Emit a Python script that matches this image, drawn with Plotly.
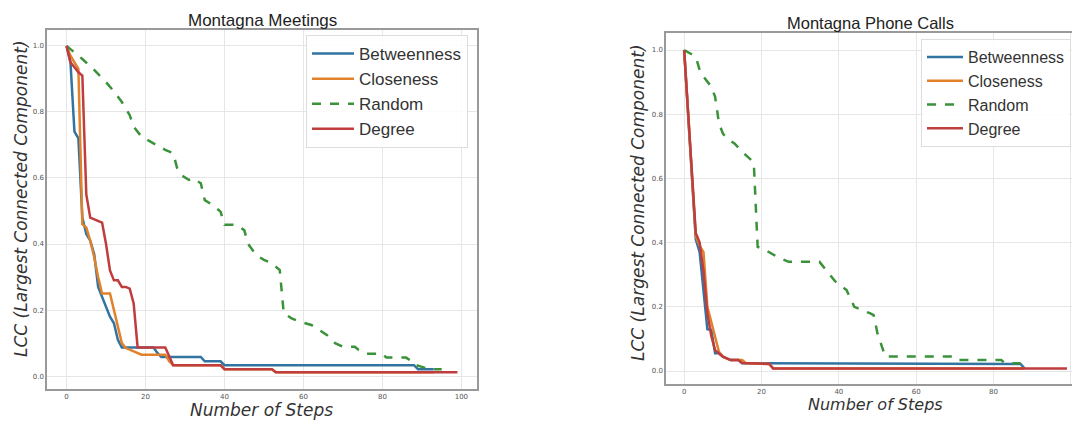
import plotly.graph_objects as go

# ---------------- Data: Montagna Meetings ----------------
bet_m_x = [0, 1, 2, 3, 4, 5, 6, 7, 8, 9, 10, 11, 12, 13, 14, 22, 23, 24, 34, 35, 39, 40, 88, 89, 93]
bet_m_y = [1.0, 0.95, 0.74, 0.72, 0.48, 0.43, 0.41, 0.37, 0.27, 0.24, 0.21, 0.18, 0.16, 0.11, 0.087,
           0.087, 0.07, 0.058, 0.058, 0.045, 0.045, 0.033, 0.033, 0.021, 0.021]

clo_m_x = [0, 1, 2, 3, 4, 5, 6, 7, 8, 9, 11, 12, 13, 14, 15, 16, 17, 18, 19, 25, 26, 27, 39, 40, 52, 53, 93]
clo_m_y = [1.0, 0.97, 0.95, 0.93, 0.46, 0.45, 0.41, 0.36, 0.30, 0.25, 0.25, 0.20, 0.15, 0.10, 0.085,
           0.08, 0.075, 0.07, 0.065, 0.065, 0.045, 0.033, 0.033, 0.021, 0.021, 0.012, 0.012]

rnd_m_x = [0, 4, 7, 10, 12, 14, 16, 17, 19, 22, 25, 27, 28, 29, 31, 32, 34, 35, 37, 39, 40, 43, 45,
           46, 48, 50, 52, 54, 55, 57, 59, 62, 64, 66, 68, 70, 73, 74, 76, 80, 81, 86, 87, 88, 90, 92, 95]
rnd_m_y = [1.0, 0.96, 0.927, 0.89, 0.862, 0.83, 0.79, 0.755, 0.725, 0.705, 0.685, 0.675, 0.63, 0.609,
           0.594, 0.599, 0.584, 0.533, 0.518, 0.498, 0.458, 0.458, 0.442, 0.40, 0.367, 0.352, 0.341,
           0.321, 0.19, 0.175, 0.165, 0.155, 0.139, 0.124, 0.10, 0.089, 0.089, 0.079, 0.068, 0.068,
           0.056, 0.056, 0.048, 0.035, 0.028, 0.021, 0.021]

deg_m_x = [0, 1, 2, 3, 4, 5, 6, 7, 8, 9, 10, 11, 12, 13, 14, 15, 16, 17, 18, 25, 26, 27, 39, 40, 52, 53, 99]
deg_m_y = [1.0, 0.95, 0.935, 0.92, 0.91, 0.55, 0.48, 0.475, 0.47, 0.465, 0.40, 0.32, 0.29, 0.29, 0.27,
           0.27, 0.265, 0.22, 0.087, 0.087, 0.06, 0.033, 0.033, 0.021, 0.021, 0.012, 0.012]

# ---------------- Data: Montagna Phone Calls ----------------
bet_p_x = [0, 3, 4, 5, 6, 7, 8, 9, 10, 12, 14, 15, 87, 88]
bet_p_y = [1.0, 0.41, 0.37, 0.26, 0.13, 0.128, 0.055, 0.055, 0.045, 0.034, 0.034, 0.024, 0.022, 0.008]

clo_p_x = [0, 3, 4, 5, 6, 7, 8, 9, 10, 12, 15, 16, 22, 23, 88]
clo_p_y = [1.0, 0.42, 0.39, 0.37, 0.20, 0.15, 0.10, 0.06, 0.045, 0.034, 0.034, 0.024, 0.022, 0.008, 0.008]

rnd_p_x = [0, 3, 4, 5, 7, 8, 9, 10, 11, 13, 15, 18, 19, 21, 24, 27, 35, 36, 37, 39, 42, 44, 48, 49,
           50, 52, 70, 71, 82, 83, 87]
rnd_p_y = [1.0, 0.979, 0.938, 0.917, 0.886, 0.854, 0.772, 0.74, 0.725, 0.709, 0.683, 0.65, 0.387,
           0.377, 0.356, 0.34, 0.34, 0.325, 0.31, 0.28, 0.252, 0.20, 0.18, 0.174, 0.117, 0.045,
           0.045, 0.034, 0.034, 0.024, 0.024]

deg_p_x = [0, 3, 4, 5, 6, 7, 8, 9, 10, 12, 14, 15, 22, 23, 99]
deg_p_y = [1.0, 0.43, 0.40, 0.31, 0.18, 0.11, 0.065, 0.055, 0.045, 0.034, 0.034, 0.025, 0.022, 0.008, 0.008]

names = ["Betweenness", "Closeness", "Random", "Degree"]
colors = ["#3274a1", "#e1812c", "#3a923a", "#c03d3e"]
dashes = ["solid", "solid", "dash", "solid"]

x_ticks = [0, 20, 40, 60, 80, 100]
y_ticks = [0.0, 0.2, 0.4, 0.6, 0.8, 1.0]

W, H = 1072, 421

fig = go.Figure()

meet = [(bet_m_x, bet_m_y), (clo_m_x, clo_m_y), (rnd_m_x, rnd_m_y), (deg_m_x, deg_m_y)]
phone = [(bet_p_x, bet_p_y), (clo_p_x, clo_p_y), (rnd_p_x, rnd_p_y), (deg_p_x, deg_p_y)]

for i, (xs, ys) in enumerate(meet):
    fig.add_trace(go.Scatter(x=xs, y=ys, mode="lines", name=names[i],
                             line=dict(color=colors[i], width=2.5, dash=dashes[i]),
                             xaxis="x", yaxis="y", legend="legend"))
for i, (xs, ys) in enumerate(phone):
    fig.add_trace(go.Scatter(x=xs, y=ys, mode="lines", name=names[i],
                             line=dict(color=colors[i], width=2.5, dash=dashes[i]),
                             xaxis="x2", yaxis="y2", legend="legend2"))

def px_x(p):
    return p / W

def px_y(p):
    return 1 - p / H

axis_common = dict(showgrid=True, gridcolor="#e6e6e6", gridwidth=1, zeroline=False,
                   showline=True, linecolor="#999999", linewidth=1.5,
                   ticks="", tickfont=dict(family="DejaVu Sans", size=7, color="#555555"))

legend_font = dict(family="Arial, Liberation Sans", size=17, color="#333333")

fig.update_layout(
    width=W, height=H,
    margin=dict(l=0, r=0, t=0, b=0, autoexpand=False),
    paper_bgcolor="white", plot_bgcolor="white",
    xaxis=dict(domain=[px_x(47), px_x(477)], range=[-4.95, 103.95], anchor="y",
               tickvals=x_ticks, mirror=True, **axis_common),
    yaxis=dict(domain=[px_y(389), px_y(30)], range=[-0.039, 1.048], anchor="x",
               tickvals=y_ticks, tickformat=".1f", mirror=True, **axis_common),
    xaxis2=dict(domain=[px_x(666), 1.0], range=[-4.7, 100.3], anchor="y2",
                tickvals=x_ticks, mirror=True, **axis_common),
    yaxis2=dict(domain=[px_y(384), px_y(33)], range=[-0.0405, 1.053], anchor="x2",
                tickvals=y_ticks, tickformat=".1f", mirror=False, **axis_common),
    legend=dict(x=px_x(306), y=px_y(35), xanchor="left", yanchor="top", itemwidth=42,
                bgcolor="rgba(255,255,255,0.85)", bordercolor="#dddddd", borderwidth=1,
                font=legend_font),
    legend2=dict(x=px_x(921), y=px_y(39), xanchor="left", yanchor="top", itemwidth=36,
                 bgcolor="rgba(255,255,255,0.85)", bordercolor="#dddddd", borderwidth=1,
                 font=dict(legend_font, size=16)),
    showlegend=True,
)

ann_font_title = dict(family="Arial, Liberation Sans", size=17, color="#222222")
ann_font_axis = dict(family="DejaVu Sans", size=17, color="#333333")

annotations = [
    dict(text="Montagna Meetings", x=px_x(262), y=px_y(20), font=ann_font_title),
    dict(text="Montagna Phone Calls", x=px_x(870), y=px_y(23), font=dict(ann_font_title, size=16.5)),
    dict(text="<i>Number of Steps</i>", x=px_x(261), y=px_y(410), font=ann_font_axis),
    dict(text="<i>Number of Steps</i>", x=px_x(875), y=px_y(404), font=dict(ann_font_axis, size=16)),
    dict(text="<i>LCC (Largest Connected Component)</i>", x=px_x(21), y=px_y(199),
         textangle=-90, font=ann_font_axis),
    dict(text="<i>LCC (Largest Connected Component)</i>", x=px_x(638), y=px_y(203),
         textangle=-90, font=ann_font_axis),
]
for a in annotations:
    a.update(xref="paper", yref="paper", xanchor="center", yanchor="middle", showarrow=False)
fig.update_layout(annotations=annotations)

fig.write_html("out.html", config={"displayModeBar": False},
               post_script="document.body.style.margin='0px';document.body.style.overflow='hidden';")
